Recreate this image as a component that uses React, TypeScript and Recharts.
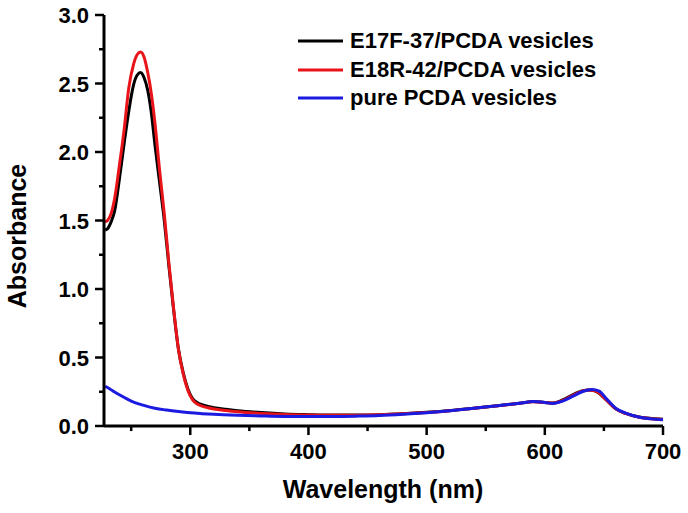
import React from "react";
import { Line, LineChart, ReferenceLine, XAxis, YAxis } from "recharts";

// UV-vis spectra
const wlVesicle = [
  228, 230, 233, 236, 240, 244, 248, 252, 255, 258, 261, 264, 267, 270, 274, 278, 282, 286, 290, 294,
  298, 302, 306, 310, 315, 320, 330, 340, 360, 380, 400, 420, 440, 460, 480, 500, 520, 540, 560, 580,
  590, 600, 607, 615, 624, 632, 638, 645, 652, 660, 669, 680, 690, 700,
];
const e17f = [
  1.43, 1.44, 1.49, 1.57, 1.8, 2.06, 2.3, 2.49, 2.56, 2.58, 2.54, 2.45, 2.29, 2.06, 1.78, 1.5, 1.16, 0.84, 0.56, 0.39,
  0.27, 0.2, 0.17, 0.155, 0.143, 0.134, 0.122, 0.112, 0.098, 0.088, 0.083, 0.08, 0.08, 0.083, 0.09, 0.1, 0.113, 0.13, 0.148, 0.168,
  0.178, 0.172, 0.168, 0.19, 0.23, 0.258, 0.262, 0.245, 0.19, 0.125, 0.09, 0.065, 0.055, 0.05,
];
const e18r = [
  1.49, 1.5, 1.55, 1.66, 1.9, 2.16, 2.47, 2.64, 2.71, 2.73, 2.69, 2.58, 2.43, 2.22, 1.87, 1.55, 1.18, 0.85, 0.56, 0.38,
  0.26, 0.19, 0.16, 0.145, 0.133, 0.124, 0.113, 0.104, 0.092, 0.084, 0.08, 0.078, 0.078, 0.082, 0.089, 0.099, 0.112, 0.129, 0.147, 0.167,
  0.177, 0.171, 0.166, 0.186, 0.224, 0.255, 0.262, 0.248, 0.19, 0.125, 0.09, 0.064, 0.053, 0.048,
];
const wlPure = [
  228, 232, 236, 240, 246, 252, 260, 270, 280, 290, 300, 310, 320, 340, 360, 380, 400, 420, 440, 460,
  480, 500, 520, 540, 560, 580, 590, 600, 607, 615, 624, 632, 640, 646, 652, 660, 669, 680, 690, 700,
];
const purePcda = [
  0.29, 0.27, 0.248, 0.228, 0.2, 0.175, 0.152, 0.13, 0.116, 0.105, 0.096, 0.09, 0.085, 0.078, 0.073, 0.07, 0.07, 0.07, 0.072, 0.076,
  0.085, 0.097, 0.112, 0.13, 0.148, 0.168, 0.178, 0.172, 0.165, 0.182, 0.218, 0.252, 0.266, 0.255, 0.2, 0.13, 0.092, 0.064, 0.052, 0.045,
];

const xTicks = [250, 300, 350, 400, 450, 500, 550, 600, 650, 700];
const yTicks = [0, 0.25, 0.5, 0.75, 1, 1.25, 1.5, 1.75, 2, 2.25, 2.5, 2.75, 3];
const X_MIN = 227;
const X_MAX = 700;

const series = [
  { key: "e17f", name: "E17F-37/PCDA vesicles", color: "#000000" },
  { key: "e18r", name: "E18R-42/PCDA vesicles", color: "#e8141a" },
  { key: "pure", name: "pure PCDA vesicles", color: "#1a1ae0" },
];

// one table over the union of wavelengths; gaps are bridged with connectNulls
const allWl = Array.from(new Set([...wlVesicle, ...wlPure])).sort((a, b) => a - b);
const table = allWl.map((x) => {
  const i = wlVesicle.indexOf(x);
  const j = wlPure.indexOf(x);
  return {
    x,
    e17f: i >= 0 ? e17f[i] : undefined,
    e18r: i >= 0 ? e18r[i] : undefined,
    pure: j >= 0 ? purePcda[j] : undefined,
  };
});

const FONT = "'Liberation Sans', Arial, sans-serif";
const isMajorX = (v: number) => v % 100 === 0;
const isMajorY = (v: number) => Math.abs(v * 2 - Math.round(v * 2)) < 1e-6;

// tick lengths in data units (about 9px major / 5px minor)
const X_TICK_MAJOR = 0.066;
const X_TICK_MINOR = 0.037;
const Y_TICK_MAJOR = 7.6;
const Y_TICK_MINOR = 4.2;

const XTick = (props: any) => {
  const { x, y, payload } = props;
  if (!isMajorX(payload.value)) return <g />;
  return (
    <text x={x} y={y + 33} textAnchor="middle" fontSize={22} fontWeight="bold" fontFamily={FONT} fill="#000" stroke="none">
      {payload.value}
    </text>
  );
};

const YTick = (props: any) => {
  const { x, y, payload } = props;
  const v = payload.value;
  if (!isMajorY(v)) return <g />;
  return (
    <text x={x - 15} y={y + 8} textAnchor="end" fontSize={22} fontWeight="bold" fontFamily={FONT} fill="#000" stroke="none">
      {v.toFixed(1)}
    </text>
  );
};

export default function App() {
  return (
    <div style={{ position: "absolute", left: 0, top: 0 }}>
      <LineChart width={688} height={513} data={table} margin={{ top: 15, right: 25, bottom: 0, left: 0 }}>
        <XAxis
          dataKey="x"
          type="number"
          domain={[X_MIN, X_MAX]}
          ticks={xTicks}
          interval={0}
          height={87}
          tickSize={0}
          tickMargin={0}
          tickLine={false}
          tick={<XTick />}
          axisLine={false}
        />
        <YAxis
          type="number"
          domain={[0, 3]}
          ticks={yTicks}
          interval={0}
          width={104}
          tickSize={0}
          tickMargin={0}
          tickLine={false}
          tick={<YTick />}
          axisLine={false}
        />
        {series.map((s) => (
          <Line
            key={s.key}
            dataKey={s.key}
            name={s.name}
            type="monotone"
            connectNulls
            stroke={s.color}
            strokeWidth={3}
            dot={false}
            isAnimationActive={false}
          />
        ))}
        {/* axis lines and tick marks */}
        <ReferenceLine x={X_MIN} stroke="#000" strokeWidth={3} ifOverflow="visible" />
        <ReferenceLine y={0} stroke="#000" strokeWidth={3} ifOverflow="visible" />
        {xTicks.map((t) => (
          <ReferenceLine
            key={`xt${t}`}
            segment={[
              { x: t, y: 0 },
              { x: t, y: -(isMajorX(t) ? X_TICK_MAJOR : X_TICK_MINOR) },
            ]}
            stroke="#000"
            strokeWidth={2.5}
            ifOverflow="visible"
          />
        ))}
        {yTicks.map((t) => (
          <ReferenceLine
            key={`yt${t}`}
            segment={[
              { x: X_MIN, y: t },
              { x: X_MIN - (isMajorY(t) ? Y_TICK_MAJOR : Y_TICK_MINOR), y: t },
            ]}
            stroke="#000"
            strokeWidth={2.5}
            ifOverflow="visible"
          />
        ))}
      </LineChart>
      <div
        style={{
          position: "absolute",
          left: 296,
          top: 27,
          fontFamily: FONT,
          fontWeight: "bold",
          fontSize: 22,
          lineHeight: "28.5px",
        }}
      >
        {series.map((s) => (
          <div key={s.key} style={{ display: "flex", alignItems: "center", whiteSpace: "nowrap" }}>
            <svg width={54} height={10}>
              <line x1={2} x2={47} y1={5} y2={5} stroke={s.color} strokeWidth={3} />
            </svg>
            <span>{s.name}</span>
          </div>
        ))}
      </div>
      <svg width={688} height={513} style={{ position: "absolute", left: 0, top: 0, pointerEvents: "none" }}>
        <text x={383} y={498} textAnchor="middle" fontSize={25} fontWeight="bold" fontFamily={FONT} fill="#000">
          Wavelength (nm)
        </text>
        <text transform="translate(26,236) rotate(-90)" textAnchor="middle" fontSize={25} fontWeight="bold" fontFamily={FONT} fill="#000">
          Absorbance
        </text>
      </svg>
    </div>
  );
}
